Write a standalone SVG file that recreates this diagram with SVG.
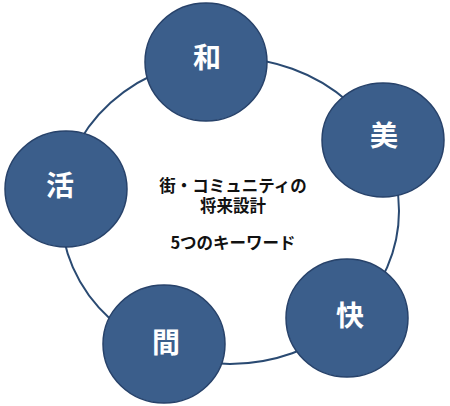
<svg xmlns="http://www.w3.org/2000/svg" width="450" height="406" viewBox="0 0 450 406">
<style>
.node ellipse{fill:#3b5e8b;stroke:#27426a;stroke-width:1.5}
.node text{fill:#ffffff;font-family:"Noto Sans CJK JP","Noto Sans CJK SC",sans-serif;font-weight:bold;font-size:28px;text-anchor:middle}
.ring{fill:none;stroke:#2a4a72;stroke-width:2}
.center text{fill:#111111;font-family:"Noto Sans CJK JP","Noto Sans CJK SC",sans-serif;font-weight:bold;font-size:16.5px;text-anchor:middle}
</style>
<rect width="450" height="406" fill="#ffffff"/>
<g id="connectors">
<ellipse class="ring" cx="230" cy="211" rx="169" ry="153"/>
</g>
<g id="center" class="center">
<text x="233" y="192">街・コミュニティの</text>
<text x="233" y="212">将来設計</text>
<text x="233" y="249">5つのキーワード</text>
</g>
<g id="node-wa" class="node">
<ellipse cx="206" cy="62" rx="61" ry="59"/>
<text x="207" y="68">和</text>
</g>
<g id="node-bi" class="node">
<ellipse cx="383" cy="140" rx="61" ry="57"/>
<text x="384" y="146">美</text>
</g>
<g id="node-katsu" class="node">
<ellipse cx="66" cy="189" rx="61" ry="58"/>
<text x="60" y="196">活</text>
</g>
<g id="node-kai" class="node">
<ellipse cx="347" cy="318" rx="61" ry="59"/>
<text x="350" y="326">快</text>
</g>
<g id="node-ma" class="node">
<ellipse cx="164" cy="344" rx="61" ry="59"/>
<text x="166" y="353">間</text>
</g>
</svg>
